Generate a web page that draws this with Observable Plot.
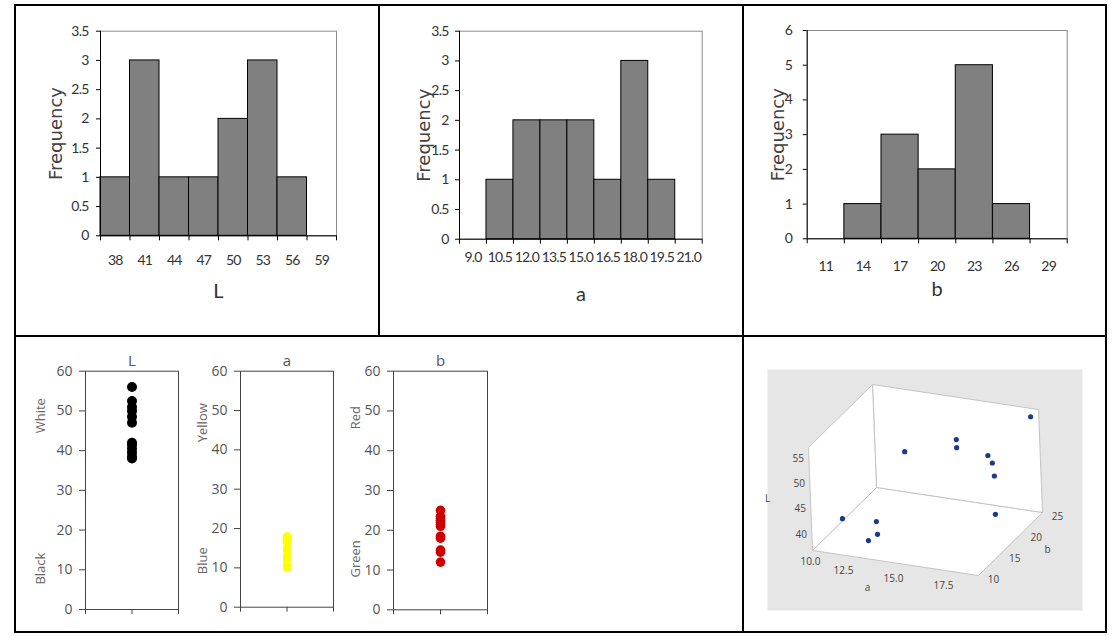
<!DOCTYPE html>
<html><head><meta charset="utf-8">
<script src="https://cdn.jsdelivr.net/npm/d3@7"></script>
<script src="https://cdn.jsdelivr.net/npm/@observablehq/plot@0.6"></script>
<style>
body{margin:0;background:#fff;}
#wrap{position:relative;width:1114px;height:636px;overflow:hidden;background:#fff;}
#wrap svg{position:absolute;left:0;top:0;}
#wrap svg.hist g[aria-label="x-axis tick label"] text,
#wrap svg.hist g[aria-label="y-axis tick label"] text{letter-spacing:-0.8px;}
.b{position:absolute;background:#000;}
</style></head><body><div id="wrap">
<div class="b" style="left:14px;top:4px;width:1093px;height:2px"></div>
<div class="b" style="left:14px;top:631px;width:1093px;height:2px"></div>
<div class="b" style="left:14px;top:4px;width:2px;height:629px"></div>
<div class="b" style="left:1105px;top:4px;width:2px;height:629px"></div>
<div class="b" style="left:14px;top:335px;width:1093px;height:2px"></div>
<div class="b" style="left:378px;top:4px;width:2px;height:332px"></div>
<div class="b" style="left:742px;top:4px;width:2px;height:629px"></div>
</div>
<script>
// ---------- data ----------
const histLBins = [38, 41, 44, 47, 50, 53, 56, 59];
const histLCounts = [1, 3, 1, 1, 2, 3, 1, 0];
const histLYTicks = [0, 0.5, 1, 1.5, 2, 2.5, 3, 3.5];

const histABins = [9.0, 10.5, 12.0, 13.5, 15.0, 16.5, 18.0, 19.5, 21.0];
const histACounts = [0, 1, 2, 2, 2, 1, 3, 1, 0];
const histAYTicks = [0, 0.5, 1, 1.5, 2, 2.5, 3, 3.5];

const histBBins = [11, 14, 17, 20, 23, 26, 29];
const histBCounts = [0, 1, 3, 2, 5, 1, 0];
const histBYTicks = [0, 1, 2, 3, 4, 5, 6];

const stripL = [38, 38.5, 39.5, 40.5, 41.5, 42, 47, 48.5, 50, 51, 52.5, 56];
const stripA = [10, 10.5, 12, 12.5, 13, 14.5, 15, 16.5, 17, 17.5, 18, 18];
const stripB = [12, 14.5, 15, 18, 18.5, 21, 21.5, 22, 22.5, 23, 23.5, 25];
const stripYTicks = [0, 10, 20, 30, 40, 50, 60];
const stripCatsL = [{t: "White", v: 48.8}, {t: "Black", v: 10.3}];
const stripCatsA = [{t: "Yellow", v: 46.9}, {t: "Blue", v: 11.8}];
const stripCatsB = [{t: "Red", v: 48.3}, {t: "Green", v: 12.8}];

const scatterA = [18, 15, 15, 12, 17, 17.5, 18, 18, 10.5, 12, 12.5, 12.5];
const scatterB = [24.5, 21, 21, 22.7, 19, 17.7, 15.8, 15.7, 14.8, 15.7, 13.6, 11.5];
const scatterL = [56, 52.6, 51, 47, 52.3, 52.2, 51.5, 44, 39.4, 39, 38.5, 39];
const ticks3dL = [40, 45, 50, 55];
const ticks3dA = [10, 12.5, 15, 17.5];
const ticks3dB = [10, 15, 20, 25];

// ---------- layout helpers ----------
const W = 1114, H = 636;
const wrap = document.getElementById("wrap");
const m = (l, r, t, b) => ({marginLeft: l, marginRight: W - r, marginTop: t, marginBottom: H - b});
const tickFont = "'Lato', sans-serif";

function histogram({bins, counts, yTicks, fmt, title, box, xPad, titleDy, freqDx, yPad}) {
  const step = bins[1] - bins[0], half = step / 2;
  const rows = bins.map((v, i) => ({v, c: counts[i]}));
  const edges = bins.map(v => v - half).concat([bins[bins.length - 1] + half]);
  const svg = Plot.plot({
    width: W, height: H, ...m(box.l, box.r, box.t, box.b),
    style: {background: "transparent", fontFamily: tickFont},
    x: {domain: [edges[0], edges[edges.length - 1]]},
    y: {domain: [0, yTicks[yTicks.length - 1]]},
    marks: [
      Plot.frame({stroke: "#8c8c8c"}),
      Plot.rectY(rows.filter(d => d.c > 0), {x1: d => d.v - half, x2: d => d.v + half, y1: d => 0, y2: "c", fill: "#808080", stroke: "#000", strokeWidth: 1}),
      Plot.ruleX([edges[0]], {stroke: "#000"}),
      Plot.ruleY([0], {stroke: "#000"}),
      Plot.axisY({ticks: yTicks, tickSize: 4, tickPadding: yPad, tickFormat: d => String(d), fontSize: 14, fill: "#333", stroke: "#000", label: null}),
      Plot.axisX({ticks: edges, tickSize: 5, tickFormat: () => "", stroke: "#000", label: null}),
      Plot.axisX({ticks: bins, tickSize: 0, tickPadding: xPad, tickFormat: fmt, fontSize: 14, fill: "#333", label: null}),
      Plot.text([title], {frameAnchor: "bottom", dy: titleDy, fontSize: 20, fill: "#333"}),
      Plot.text(["Frequency"], {frameAnchor: "left", textAnchor: "middle", dx: freqDx, rotate: -90, fontSize: 18, fontFamily: "DejaVu Sans", fill: "#404040"})
    ]
  });
  svg.classList.add("hist");
  return svg;
}

function strip({vals, color, r, title, cats, box, catDx}) {
  return Plot.plot({
    width: W, height: H, ...m(box.l, box.r, box.t, box.b),
    style: {background: "transparent", fontFamily: "'Open Sans', sans-serif"},
    x: {domain: [0, 2]}, y: {domain: [0, 60]},
    marks: [
      Plot.frame({stroke: "#444"}),
      Plot.axisY({ticks: stripYTicks, tickSize: 6, tickPadding: 7, fontSize: 14, fill: "#555", stroke: "#444", label: null}),
      Plot.axisX({ticks: [0, 1, 2], tickSize: 5, tickFormat: () => "", stroke: "#444", label: null}),
      Plot.dot(vals, {x: () => 1, y: d => d, r, fill: color}),
      Plot.text([title], {frameAnchor: "top", dy: -16, fontSize: 15, fill: "#555"}),
      Plot.text(cats, {y: "v", text: "t", frameAnchor: "left", textAnchor: "middle", dx: catDx, rotate: -90, fontSize: 13, fill: "#666"})
    ]
  });
}

// ---------- histograms ----------
wrap.appendChild(histogram({bins: histLBins, counts: histLCounts, yTicks: histLYTicks, fmt: d3.format("d"), title: "L",
  box: {l: 100, r: 336, t: 30.7, b: 235.3}, xPad: 19, titleDy: 62, freqDx: -44, yPad: 8}));
wrap.appendChild(histogram({bins: histABins, counts: histACounts, yTicks: histAYTicks, fmt: d3.format(".1f"), title: "a",
  box: {l: 459, r: 701.7, t: 30.7, b: 238.7}, xPad: 13, titleDy: 62, freqDx: -35, yPad: 7}));
wrap.appendChild(histogram({bins: histBBins, counts: histBCounts, yTicks: histBYTicks, fmt: d3.format("d"), title: "b",
  box: {l: 806.7, r: 1066.7, t: 30, b: 238.3}, xPad: 22, titleDy: 57, freqDx: -29, yPad: 11}));

// ---------- strip plots ----------
wrap.appendChild(strip({vals: stripL, color: "#000", r: 5, title: "L", cats: stripCatsL, box: {l: 85, r: 178, t: 370.7, b: 609}, catDx: -45}));
wrap.appendChild(strip({vals: stripA, color: "#ffff00", r: 4.2, title: "a", cats: stripCatsA, box: {l: 240, r: 333, t: 370.7, b: 606.7}, catDx: -38}));
wrap.appendChild(strip({vals: stripB, color: "#cc0000", r: 4.8, title: "b", cats: stripCatsB, box: {l: 393, r: 487, t: 370.7, b: 609.3}, catDx: -38}));

// ---------- 3D scatter (oblique projection) ----------
const aDom = [10, 18.3], bDom = [10, 25], LDom = [36.8, 57.2];
const view = {a: [166, 25], b: [64, -63], L: [-4, -103]};
function proj(a, b, L) {
  const ta = (a - aDom[0]) / (aDom[1] - aDom[0]);
  const tb = (b - bDom[0]) / (bDom[1] - bDom[0]);
  const tL = (L - LDom[0]) / (LDom[1] - LDom[0]);
  return [ta * view.a[0] + tb * view.b[0] + tL * view.L[0], ta * view.a[1] + tb * view.b[1] + tL * view.L[1]];
}
const [a0, a1] = aDom, [b0, b1] = bDom, [L0, L1] = LDom;
const planes = [
  ["floor", [[a0, b0, L0], [a1, b0, L0], [a1, b1, L0], [a0, b1, L0], [a0, b0, L0]]],
  ["back", [[a0, b1, L0], [a1, b1, L0], [a1, b1, L1], [a0, b1, L1], [a0, b1, L0]]],
  ["left", [[a0, b0, L0], [a0, b1, L0], [a0, b1, L1], [a0, b0, L1], [a0, b0, L0]]]
];
const planeRows = planes.flatMap(([name, pts]) => pts.map(p => {
  const [u, v] = proj(...p); return {plane: name, u, v};
}));
const pts3d = scatterA.map((a, i) => {
  const [u, v] = proj(a, scatterB[i], scatterL[i]); return {u, v};
});
const fmt1 = d3.format(".1f");
const firstA = ticks3dA.slice(0, 1), restA = ticks3dA.slice(1);
wrap.appendChild(Plot.plot({
  width: W, height: H, ...m(767, 1082, 369, 610),
  style: {background: "transparent", fontFamily: "'Open Sans', sans-serif"},
  x: {domain: [-45, 270], axis: null},
  y: {domain: [60, -181], axis: null},
  marks: [
    Plot.frame({fill: "#e6e6e6", stroke: "none"}),
    Plot.line(planeRows, {x: "u", y: "v", z: "plane", fill: "#ffffff", stroke: "#c4c4c4", strokeWidth: 1}),
    Plot.dot(pts3d, {x: "u", y: "v", r: 2.6, fill: "#1b3a8c"}),
    Plot.text(ticks3dL, {x: d => proj(a0, b0, d)[0], y: d => proj(a0, b0, d)[1], text: d => String(d), textAnchor: "end", dx: -5, fontSize: 10, fill: "#444"}),
    Plot.text(firstA, {x: d => proj(d, b0, L0)[0], y: d => proj(d, b0, L0)[1], text: d => fmt1(d), dx: -2, dy: 11, fontSize: 10, fill: "#444"}),
    Plot.text(restA, {x: d => proj(d, b0, L0)[0], y: d => proj(d, b0, L0)[1], text: d => fmt1(d), dx: -19, dy: 13, fontSize: 10, fill: "#444"}),
    Plot.text(ticks3dB, {x: d => proj(a1, d, L0)[0], y: d => proj(a1, d, L0)[1], text: d => String(d), dx: 15, dy: 4, fontSize: 10, fill: "#444"}),
    Plot.text(["L"], {x: () => proj(a0, b0, (L0 + L1) / 2)[0], y: () => proj(a0, b0, (L0 + L1) / 2)[1], dx: -43, fontSize: 10, fill: "#444"}),
    Plot.text(["a"], {x: () => proj((a0 + a1) / 2, b0, L0)[0], y: () => proj((a0 + a1) / 2, b0, L0)[1], dx: -28, dy: 25, fontSize: 10, fill: "#444"}),
    Plot.text(["b"], {x: () => proj(a1, (b0 + b1) / 2, L0)[0], y: () => proj(a1, (b0 + b1) / 2, L0)[1], dx: 37, dy: 6, fontSize: 10, fill: "#444"})
  ]
}));
</script>
</body></html>
